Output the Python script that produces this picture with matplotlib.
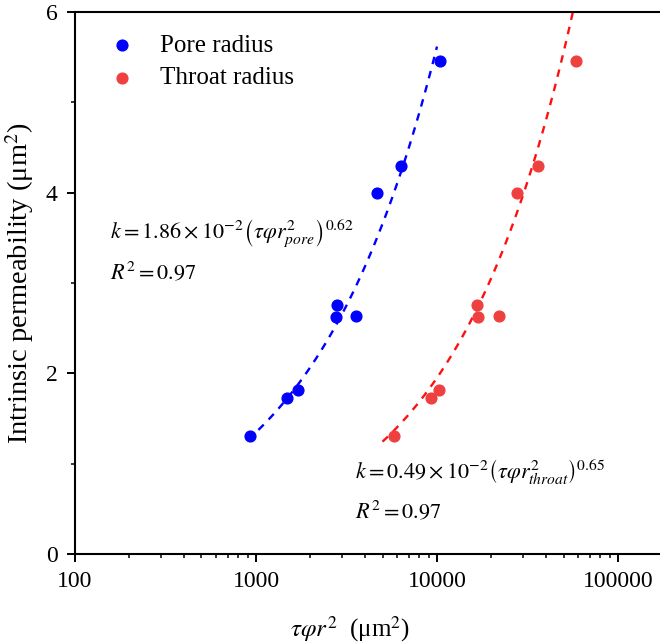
import numpy as np
import matplotlib
matplotlib.use("Agg")
import matplotlib.pyplot as plt
from matplotlib.ticker import FixedLocator, LogLocator, NullFormatter

plt.rcParams['font.family'] = ['Liberation Serif', 'DejaVu Serif']
plt.rcParams['mathtext.fontset'] = 'stix'

# values
perm = [1.31, 1.73, 1.81, 2.76, 2.62, 2.63, 4.00, 4.30, 5.46]
pore_x = [927, 1479, 1700, 2790, 2767, 3567, 4660, 6324, 10390]
throat_x = [5785, 9270, 10260, 16570, 16790, 22030, 27690, 36140, 58630]

# fitted power laws printed on the chart: k = a * x^b
pore_fit = (1.86e-2, 0.62)
throat_fit = (0.49e-2, 0.65)

pore_eq = r'$k=1.86\times10^{-2}\left(\tau\varphi r^{2}_{pore}\right)^{0.62}$'
throat_eq = r'$k=0.49\times10^{-2}\left(\tau\varphi r^{2}_{throat}\right)^{0.65}$'
r2_text = r'$R^{2}=0.97$'

blue = '#0000FF'
red = '#EF4040'

fig = plt.figure(figsize=(6.6, 6.44), dpi=100)
ax = fig.add_axes([0.1136, 0.1398, 0.8864, 0.8416])

ax.scatter(pore_x, perm, s=60, color=blue, zorder=3, label='Pore radius')
ax.scatter(throat_x, perm, s=60, color=red, zorder=3, label='Throat radius')

xp = np.logspace(np.log10(900), np.log10(10000), 100)
ax.plot(xp, pore_fit[0] * xp ** pore_fit[1], color=blue, lw=1.7, dashes=(3.2, 3))
xt = np.logspace(np.log10(5000), np.log10(62000), 100)
ax.plot(xt, throat_fit[0] * xt ** throat_fit[1], color='#FF1010', lw=1.7, dashes=(3.2, 3))

ax.set_xscale('log')
ax.set_xlim(100, 10 ** 5.232)
ax.set_ylim(0, 6)
ax.set_xticks([100, 1000, 10000, 100000])
ax.set_xticklabels(['100', '1000', '10000', '100000'])
ax.xaxis.set_minor_locator(LogLocator(base=10, subs=np.arange(2, 10)))
ax.xaxis.set_minor_formatter(NullFormatter())
ax.set_yticks([0, 2, 4, 6])
ax.yaxis.set_minor_locator(FixedLocator([1, 3, 5]))

ax.spines['right'].set_visible(False)
for s in ['left', 'bottom', 'top']:
    ax.spines[s].set_linewidth(1.5)
ax.tick_params(which='major', direction='out', length=6, width=1.4, labelsize=17,
               pad=6.5, top=False, right=False)
ax.tick_params(which='minor', direction='out', length=3.2, width=1.1,
               top=False, right=False)

ax.set_xlabel(r'$\tau\varphi r^{2}$  (μm$^{2}$)', fontsize=18)
ax.xaxis.set_label_coords(0.47, -0.112)
ax.set_ylabel(r'Intrinsic permeability (μm$^{2}$)', fontsize=20.5)
ax.yaxis.set_label_coords(-0.066, 0.5)

ax.text(0.060, 0.592, pore_eq, transform=ax.transAxes, fontsize=16, va='center')
ax.text(0.060, 0.520, r2_text, transform=ax.transAxes, fontsize=16, va='center')
ax.text(0.479, 0.151, throat_eq, transform=ax.transAxes, fontsize=16, va='center')
ax.text(0.479, 0.079, r2_text, transform=ax.transAxes, fontsize=16, va='center')

ax.legend(loc='upper left', bbox_to_anchor=(0.0, 1.0), frameon=False, fontsize=18,
          handletextpad=0.5, labelspacing=0.4, borderaxespad=0.5)

fig.savefig('out.png', dpi=100)
